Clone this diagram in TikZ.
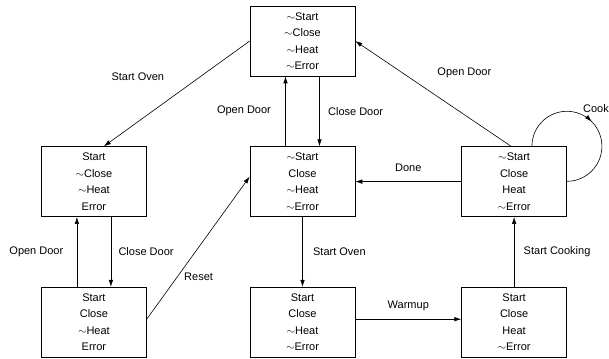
\documentclass[tikz,border=0pt]{standalone}
\usepackage{fontspec}
\setmainfont{Liberation Sans}
\usetikzlibrary{positioning, arrows.meta, decorations.markings}
\newcommand{\nt}{$\sim$}

\begin{document}
\begin{tikzpicture}[
  x=1pt, y=1pt,
  every node/.style={font=\fontsize{11}{16.5}\selectfont},
  statebox/.style={draw, line width=0.6pt, minimum width=105pt, minimum height=70pt,
    align=center, inner sep=2pt},
  trans/.style={draw, line width=0.6pt, -{Latex[length=7pt,width=4.5pt]}},
  node distance=70pt
]
\useasboundingbox (0,0) rectangle (609,-358);
\node[statebox] (idle) at (302.5,-41) {\nt Start\\\nt Close\\\nt Heat\\\nt Error};
\node[statebox, below=of idle] (ready) {\nt Start\\Close\\\nt Heat\\\nt Error};
\node[statebox, below=of ready] (warm) {Start\\Close\\\nt Heat\\\nt Error};
\node[statebox, left=103pt of ready] (openErr) {Start\\\nt Close\\\nt Heat\\Error};
\node[statebox, below=of openErr] (closedErr) {Start\\Close\\\nt Heat\\Error};
\node[statebox, right=106pt of ready] (cooking) {\nt Start\\Close\\Heat\\\nt Error};
\node[statebox, below=of cooking] (heating) {Start\\Close\\Heat\\\nt Error};

\draw[trans] (idle.west) -- node[pos=0.5, xshift=-39pt, yshift=16.5pt] {Start Oven} ([xshift=10pt]openErr.north);
\draw[trans] ([xshift=-17pt]closedErr.north) -- node[left=10pt] {Open Door} ([xshift=-17pt]openErr.south);
\draw[trans] ([xshift=17pt]openErr.south) -- node[right=4pt] {Close Door} ([xshift=17pt]closedErr.north);
\draw[trans] ([yshift=3pt]closedErr.east) -- node[pos=0.3, right=3pt] {Reset} ([yshift=5pt]ready.west);
\draw[trans] ([xshift=-17pt]ready.north) -- node[left=11pt] {Open Door} ([xshift=-17pt]idle.south);
\draw[trans] ([xshift=17pt]idle.south) -- node[right=5pt] {Close Door} ([xshift=17pt]ready.north);
\draw[trans] (cooking.west) -- node[above=6pt] {Done} (ready.east);
\draw[trans] ([xshift=-3pt]cooking.north) -- node[pos=0.3, above=33pt] {Open Door} (idle.east);
\draw[trans] (ready.south) -- node[right=7pt] {Start Oven} (warm.north);
\draw[trans] ([yshift=3pt]warm.east) -- node[above=5pt] {Warmup} ([yshift=3pt]heating.west);
\draw[trans] (heating.north) -- node[right=6pt] {Start Cooking} (cooking.south);
\draw[line width=0.6pt, postaction={decorate},
  decoration={markings, mark=at position 0.5 with {\arrow{Latex[length=7pt,width=4.5pt]}}}]
  ([xshift=-35pt]cooking.north east) arc[start angle=180, end angle=-90, radius=35pt];
\node[anchor=west, inner sep=1pt] (cooklbl) at ([shift={(15pt,38pt)}]cooking.north east) {Cook};
\end{tikzpicture}
\end{document}
